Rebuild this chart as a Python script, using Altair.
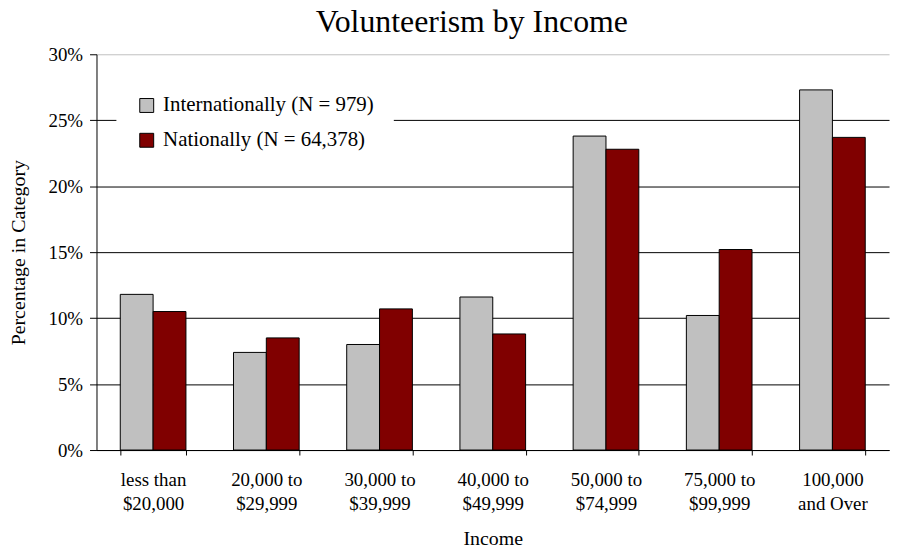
import altair as alt
import pandas as pd

categories = ["less than|$20,000", "20,000 to|$29,999", "30,000 to|$39,999",
              "40,000 to|$49,999", "50,000 to|$74,999", "75,000 to|$99,999",
              "100,000|and Over"]
series = ["Internationally (N = 979)", "Nationally (N = 64,378)"]
international = [11.8, 7.4, 8.0, 11.6, 23.8, 10.2, 27.3]
national = [10.5, 8.5, 10.7, 8.8, 22.8, 15.2, 23.7]
y_ticks = [0, 0.05, 0.10, 0.15, 0.20, 0.25, 0.30]
colors = ["#C0C0C0", "#800000"]

rows = []
for c, a, b in zip(categories, international, national):
    rows.append({"Income": c, "Series": series[0], "Value": a / 100})
    rows.append({"Income": c, "Series": series[1], "Value": b / 100})
df = pd.DataFrame(rows)

FONT = "Liberation Serif"

chart = alt.Chart(df).mark_bar(stroke="black", strokeWidth=1).encode(
    x=alt.X("Income:N", sort=categories,
            scale=alt.Scale(paddingInner=0.42, paddingOuter=0.21),
            axis=alt.Axis(title="Income", labelAngle=0, tickBand="extent",
                          labelExpr="split(datum.label, '|')",
                          labelFontSize=19, titleFontSize=20,
                          labelLineHeight=24, labelPadding=16, tickSize=5,
                          titlePadding=15, grid=False)),
    xOffset=alt.XOffset("Series:N", sort=series),
    y=alt.Y("Value:Q", scale=alt.Scale(domain=[0, 0.3]),
            axis=alt.Axis(title="Percentage in Category", format=".0%",
                          values=y_ticks, tickSize=7, labelPadding=7,
                          labelFontSize=19, titleFontSize=20,
                          titlePadding=20, grid=True,
                          gridColor={"condition": {"test": "datum.value >= 0.3", "value": "#c0c0c0"}, "value": "black"})),
    color=alt.Color("Series:N", sort=series,
                    scale=alt.Scale(domain=series, range=colors),
                    legend=alt.Legend(title=None, orient="none", legendX=20, legendY=21,
                                      fillColor="white", padding=20,
                                      symbolType="square", symbolSize=196,
                                      symbolStrokeColor="black", symbolStrokeWidth=1,
                                      symbolOpacity=1, rowPadding=13, labelOffset=6,
                                      labelFont=FONT, labelFontSize=21,
                                      labelColor="black", labelLimit=400)),
).properties(
    width=797, height=398,
    title=alt.TitleParams("Volunteerism by Income", font=FONT, fontSize=32,
                          fontWeight="normal", color="black", anchor="middle",
                          dx=-21, offset=6),
    autosize=alt.AutoSizeParams(type="none"),
    padding={"left": 89, "top": 45, "right": 4, "bottom": 100},
    background="white",
).configure_view(stroke=None).configure_axis(
    labelFont=FONT, labelColor="black",
    titleFont=FONT, titleFontWeight="normal", titleColor="black",
    domainColor="black", tickColor="black", domainWidth=1, gridWidth=1,
)

chart.save("out.html", embed_options={"renderer": "svg", "actions": False})
